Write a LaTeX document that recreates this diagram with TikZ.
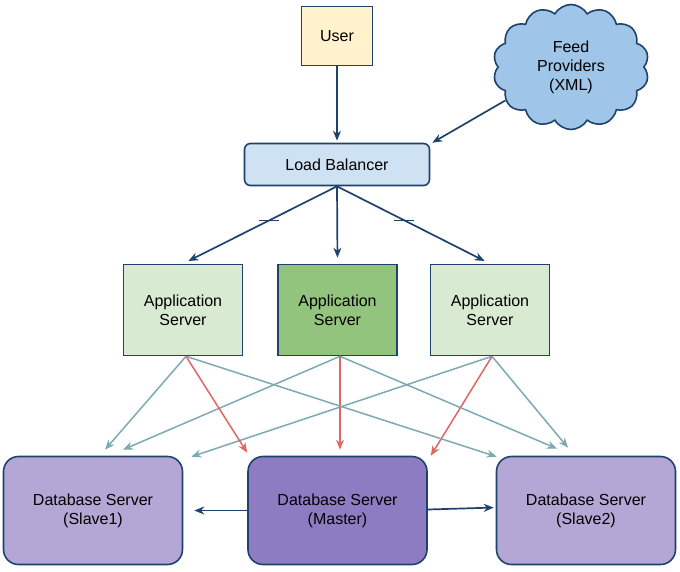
\documentclass[tikz,border=0pt]{standalone}
\usepackage{fontspec}
\setmainfont{Liberation Sans}
\usetikzlibrary{shapes.symbols,arrows.meta}
\definecolor{navy}{RGB}{31,66,108}
\definecolor{userfill}{RGB}{255,242,204}
\definecolor{lbfill}{RGB}{207,226,243}
\definecolor{appfill}{RGB}{217,234,211}
\definecolor{appmain}{RGB}{147,196,125}
\definecolor{cloudfill}{RGB}{159,197,232}
\definecolor{dbfill}{RGB}{180,167,214}
\definecolor{dbmain}{RGB}{142,124,195}
\definecolor{readline}{RGB}{126,169,180}
\definecolor{writeline}{RGB}{224,102,102}
\begin{document}
\begin{tikzpicture}[%
            x=1pt, y=-1pt,
            font=\fontsize{16}{19}\selectfont,
            mybox/.style={draw=navy, line width=1.6pt, align=center, inner sep=0pt},
            myserver/.style={mybox, rounded corners=15pt,
                minimum width=179pt, minimum height=108pt},
            myapp/.style={mybox, minimum width=119pt, minimum height=91pt},
            myarrow/.style={navy, line width=1.7pt, -{Stealth[length=10pt,width=8pt]}},
            myread/.style={readline, line width=1.5pt, -{Stealth[length=10pt,width=8pt]}},
            mywrite/.style={writeline, line width=1.5pt, -{Stealth[length=10pt,width=8pt]}}
        ]
        \useasboundingbox (0,0) rectangle (680,571);
        
        \node [mybox, fill=userfill, minimum width=71pt, minimum height=59pt]
            (user) at (337,36) {User};
        \node [cloud, cloud puffs=14, cloud puff arc=120, draw=navy, line width=1.6pt,
            fill=cloudfill, align=center, inner sep=0pt,
            minimum width=156pt, minimum height=125pt]
            (feed) at (571,67) {Feed\\Providers\\(XML)};
        \node [mybox, fill=lbfill, rounded corners=6pt,
            minimum width=185pt, minimum height=42pt]
            (lb) at (337,164.5) {Load Balancer};
        
        \node [myapp, fill=appfill] (app1) at (183,310) {Application\\Server};
        \node [myapp, fill=appmain] (app2) at (337.5,310) {Application\\Server};
        \node [myapp, fill=appfill] (app3) at (490,310) {Application\\Server};
        
        \node [myserver, fill=dbfill] (db1) at (93,510.5) {Database Server\\(Slave1)};
        \node [myserver, fill=dbmain] (db2) at (337.5,510.5) {Database Server\\(Master)};
        \node [myserver, fill=dbfill] (db3) at (586,510.5) {Database Server\\(Slave2)};
        
        % top part
        \draw [myarrow, shorten >=2pt] (user) -- (lb);
        \draw [myarrow] (feed.207) -- ([xshift=2pt]lb.north east);
        \draw [myarrow, shorten >=6pt] (lb.south) -- coordinate[pos=0.44] (m1) (app1.north);
        \draw [myarrow, shorten >=6pt] (lb.south) -- (app2.north);
        \draw [myarrow, shorten >=6pt] (lb.south) -- coordinate[pos=0.44] (m3) (app3.north);
        \draw [navy, line width=1.2pt] ([xshift=-10pt]m1) -- ([xshift=10pt]m1)
                                       ([xshift=-10pt]m3) -- ([xshift=10pt]m3);
        
        % application servers to databases
        \coordinate (s1) at ([xshift=3pt]app1.south);
        \coordinate (s2) at ([xshift=2.5pt]app2.south);
        \coordinate (s3) at ([xshift=2pt]app3.south);
        
        \draw [myread] (s1) -- ([shift={(12,-6)}]db1.north);
        \draw [myread] (s2) -- ([shift={(30,-6)}]db1.north);
        \draw [myread] (s3) -- ([shift={(8,1)}]db1.north east);
        \draw [mywrite] (s1) -- ([shift={(0,-3)}]db2.north west);
        \draw [mywrite] (s2) -- ([shift={(2.5,-6)}]db2.north);
        \draw [mywrite] (s3) -- ([shift={(3,0)}]db2.north east);
        \draw [myread] (s1) -- ([shift={(1,1)}]db3.north west);
        \draw [myread] (s2) -- ([shift={(-29,-7)}]db3.north);
        \draw [myread] (s3) -- ([shift={(-18,-8)}]db3.north);
        
        % replication
        \draw [myarrow, shorten >=11pt] (db2.west) -- (db1.east);
        \draw [myarrow, shorten >=2pt] ([yshift=1pt]db2.east) -- ([yshift=3pt]db3.west);
    \end{tikzpicture}
\end{document}
